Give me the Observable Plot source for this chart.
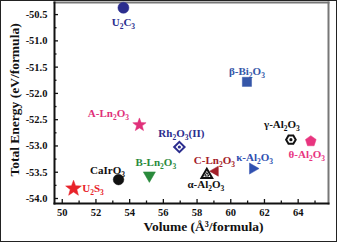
<!DOCTYPE html>
<html><head><meta charset="utf-8">
<script src="https://cdn.jsdelivr.net/npm/d3@7"></script>
<script src="https://cdn.jsdelivr.net/npm/@observablehq/plot@0.6"></script>
<style>
html,body{margin:0;padding:0;background:#fff;}
#wrap{position:relative;width:337px;height:242px;overflow:hidden;}
#border{position:absolute;left:0;top:0;width:335px;height:240px;border:1px solid #222;pointer-events:none;}
</style></head>
<body><div id="wrap"><div id="border"></div></div>
<script>
// Data
const materials = ["U_2C_3","β-Bi_2O_3","A-Ln_2O_3","Rh_2O_3(II)","γ-Al_2O_3","θ-Al_2O_3","C-Ln_2O_3","α-Al_2O_3","κ-Al_2O_3","CaIrO_3","B-Ln_2O_3","U_2S_3"];
const volume = [53.63, 60.96, 54.58, 56.95, 63.57, 64.75, 59.09, 58.58, 61.30, 53.34, 55.17, 50.67];
const energy = [-50.37, -51.78, -52.60, -53.02, -52.88, -52.91, -53.48, -53.55, -53.43, -53.64, -53.56, -53.81];
const xTicks = [50, 52, 54, 56, 58, 60, 62, 64];
const xMinor = [51, 53, 55, 57, 59, 61, 63, 65];
const yTicks = [-54.0, -53.5, -53.0, -52.5, -52.0, -51.5, -51.0, -50.5];
const yMinor = [-53.75, -53.25, -52.75, -52.25, -51.75, -51.25, -50.75];
const xTitle = "Volume (Å³/formula)";
const yTitle = "Total Energy (eV/formula)";

// custom symbols (radius from size)
const R = s => Math.sqrt(s / Math.PI);
function poly(ctx, pts){ ctx.moveTo(pts[0][0], pts[0][1]); for (let i=1;i<pts.length;i++) ctx.lineTo(pts[i][0], pts[i][1]); ctx.closePath(); }
function regular(n, rot){ return {draw(ctx, size){ const r = R(size); const p=[]; for(let i=0;i<n;i++){ const a = rot + i*2*Math.PI/n; p.push([r*Math.cos(a), r*Math.sin(a)]);} poly(ctx,p);} }; }
const sym = {
  circle: {draw(ctx,size){ const r=R(size); ctx.moveTo(r,0); ctx.arc(0,0,r,0,2*Math.PI); }},
  square: regular(4, Math.PI/4),
  diamond: regular(4, 0),
  hexagon: regular(6, 0),
  pentagon: regular(5, -Math.PI/2),
  triUp: regular(3, -Math.PI/2),
  triDown: regular(3, Math.PI/2),
  triLeft: regular(3, Math.PI),
  triRight: regular(3, 0),
  star: {draw(ctx,size){ const r=R(size), ri=r*0.42; const p=[]; for(let i=0;i<10;i++){ const a=-Math.PI/2 + i*Math.PI/5; const rr = i%2? ri : r; p.push([rr*Math.cos(a), rr*Math.sin(a)]);} poly(ctx,p);} }
};

// styles (kept apart from the data)
const styles = {
  "U_2C_3":      {symbol:"circle",  r:5.5, color:"#2b2d8e", fill:true,  dx:0,   dy:14.5},
  "β-Bi_2O_3":   {symbol:"square",  r:6.5, color:"#3556a8", fill:true,  dx:0,   dy:-10.5},
  "A-Ln_2O_3":   {symbol:"star",    r:7,   color:"#e0307a", fill:true,  dx:-31, dy:-11},
  "Rh_2O_3(II)": {symbol:"diamond", r:5.2, color:"#2b2d8e", fill:false, dx:2,   dy:-13.5, inner:"dot"},
  "γ-Al_2O_3":   {symbol:"hexagon", r:4.8, color:"#111111", fill:false, dx:-9,  dy:-15, inner:"dot"},
  "θ-Al_2O_3":   {symbol:"pentagon",r:5.6, color:"#e8357f", fill:true,  dx:-4,  dy:13},
  "C-Ln_2O_3":   {symbol:"triLeft", r:5.8, color:"#a3202a", fill:true,  dx:-1,  dy:-10.5},
  "α-Al_2O_3":   {symbol:"triUp",   r:6.2, color:"#111111", fill:false, dx:-1,  dy:10, inner:"tri"},
  "κ-Al_2O_3":   {symbol:"triRight",r:6.4, color:"#3050b0", fill:true,  dx:2,   dy:-11},
  "CaIrO_3":     {symbol:"circle",  r:5.3, color:"#111111", fill:true,  dx:-11, dy:-9},
  "B-Ln_2O_3":   {symbol:"triDown", r:7,   color:"#2a8a3c", fill:true,  dx:6.5, dy:-12.5},
  "U_2S_3":      {symbol:"star",    r:8.3, color:"#e8232a", fill:true,  dx:19.5,dy:0}
};

const table = materials.map((m,i) => ({name:m, volume:volume[i], energy:energy[i]}));
const font = "'Liberation Serif','Times New Roman',serif";

const marks = [];
// frame
marks.push(Plot.frame({anchor:"top", stroke:"#777", strokeWidth:2}));
marks.push(Plot.frame({anchor:"right", stroke:"#777", strokeWidth:2}));
marks.push(Plot.frame({anchor:"left", stroke:"#111", strokeWidth:2}));
marks.push(Plot.frame({anchor:"bottom", stroke:"#111", strokeWidth:2}));
// axes (inward ticks)
marks.push(Plot.axisX({ticks:xTicks, label:null, tickSize:-4, tickPadding:9, tickFormat:d=>String(d), fontSize:10.5, fontWeight:"bold", stroke:"#111", strokeWidth:1.3, fill:"#111"}));
marks.push(Plot.axisX({ticks:xMinor, label:null, tickSize:-2.5, tickFormat:()=>"", stroke:"#111", strokeWidth:1.3}));
marks.push(Plot.axisY({ticks:yTicks, label:null, tickSize:-4, tickPadding:11, tickFormat:d=>d.toFixed(1), fontSize:10.5, fontWeight:"bold", stroke:"#111", strokeWidth:1.3, fill:"#111"}));
marks.push(Plot.axisY({ticks:yMinor, label:null, tickSize:-2.5, tickFormat:()=>"", stroke:"#111", strokeWidth:1.3}));
// titles
marks.push(Plot.text([xTitle], {text:d=>d, frameAnchor:"bottom", dy:27, dx:12, fontSize:13.5, fontWeight:"bold", fill:"#111"}));
marks.push(Plot.text([yTitle], {text:d=>d, frameAnchor:"left", textAnchor:"middle", rotate:-90, dx:-40, dy:-3, fontSize:13.5, fontWeight:"bold", fill:"#111"}));
// points
for (const d of table) {
  const s = styles[d.name];
  marks.push(Plot.dot([d], {x:"volume", y:"energy", symbol: sym[s.symbol], r:s.r,
    fill: s.fill ? s.color : "white", stroke: s.color, strokeWidth: s.fill ? 0.5 : 2}));
  if (s.inner === "dot") marks.push(Plot.dot([d], {x:"volume", y:"energy", symbol: sym.circle, r:1.6, fill:s.color, stroke:"none"}));
  if (s.inner === "tri") marks.push(Plot.dot([d], {x:"volume", y:"energy", symbol: sym.triUp, r:2.3, fill:"white", stroke:s.color, strokeWidth:1}));
  marks.push(Plot.text([d], {x:"volume", y:"energy", text:"name", dx:s.dx, dy:s.dy, fill:s.color, fontSize:11, fontWeight:"bold"}));
}

const svg = Plot.plot({
  width:337, height:242,
  marginLeft:54, marginRight:9, marginTop:2, marginBottom:39,
  x:{domain:[49.54, 65.8], axis:null},
  y:{domain:[-54.095, -50.27], axis:null},
  style:{fontFamily:font, background:"white", overflow:"visible"},
  marks
});

// subscripts: "_n" -> lowered small digit
svg.querySelectorAll("text").forEach(t => {
  const s = t.textContent;
  if (!s.includes("_")) return;
  t.textContent = "";
  const parts = s.split(/_(\d)/);
  const NS = "http://www.w3.org/2000/svg";
  parts.forEach((p,i) => {
    if (!p) return;
    const ts = document.createElementNS(NS, "tspan");
    ts.textContent = p;
    if (i % 2 === 1) { ts.setAttribute("font-size","7.5"); ts.setAttribute("dy","3"); }
    else if (i > 0) { ts.setAttribute("dy","-3"); }
    t.appendChild(ts);
  });
});
document.getElementById("wrap").prepend(svg);
</script>
</body></html>
